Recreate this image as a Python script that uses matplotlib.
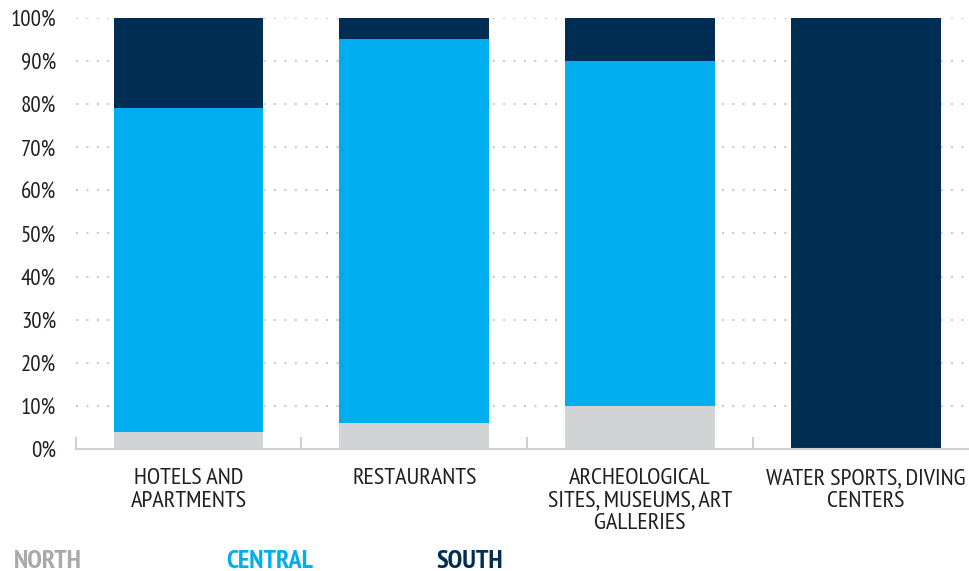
import matplotlib
matplotlib.use('Agg')

import numpy as np
import matplotlib.pyplot as plt
from matplotlib import font_manager as fm

# Data (share of each region, %)
categories = ['HOTELS AND\nAPARTMENTS', 'RESTAURANTS',
              'ARCHEOLOGICAL\nSITES, MUSEUMS, ART\nGALLERIES',
              'WATER SPORTS, DIVING\nCENTERS']
series_names = ['NORTH', 'CENTRAL', 'SOUTH']
north = [4, 6, 10, 0]
central = [75, 89, 80, 0]
south = [21, 5, 10, 100]
y_ticks = [0, 10, 20, 30, 40, 50, 60, 70, 80, 90, 100]

bar_colors = ['#d1d3d4', '#00aeef', '#002d54']
label_colors = ['#a7a9ac', '#00aeef', '#002d54']
text_color = '#231f20'
grid_color = '#c9cacb'

# pick a condensed face close to the original
installed = {f.name for f in fm.fontManager.ttflist}
for cand in ['PT Sans Narrow', 'Encode Sans Semi Condensed', 'Archivo Narrow',
             'Roboto Condensed', 'DejaVu Sans']:
    if cand in installed:
        font_name = cand
        break
plt.rcParams['font.family'] = [font_name, 'DejaVu Sans']

fig = plt.figure(figsize=(9.69, 5.71), dpi=100)
ax = fig.add_axes([0.078, 0.2137, 0.922, 0.755])

x = np.arange(len(categories))
width = 0.664
bottom = np.zeros(len(categories))
for vals, col in zip([north, central, south], bar_colors):
    ax.bar(x, vals, width, bottom=bottom, color=col, edgecolor='none', zorder=3)
    bottom += np.array(vals)

ax.set_xlim(-0.5, 3.456)
ax.set_ylim(0, 100)

# dotted horizontal grid
for yv in y_ticks[1:]:
    ax.axhline(yv, color=grid_color, lw=1.5, linestyle=(0, (1, 4)), zorder=1)

ax.set_yticks(y_ticks)
ax.set_yticklabels([f'{v}%' for v in y_ticks])
ax.tick_params(axis='y', length=0, pad=14, labelsize=16.5, labelcolor=text_color)

ax.set_xticks(x)
ax.set_xticklabels(categories, linespacing=1.07)
ax.tick_params(axis='x', which='major', length=0, pad=14, labelsize=17.5,
               labelcolor=text_color)
ax.set_xticks([-0.5, 0.5, 1.5, 2.5], minor=True)
ax.tick_params(axis='x', which='minor', direction='in', length=9, width=1.5,
               color='#d0d0d0')

for s in ['left', 'right', 'top']:
    ax.spines[s].set_visible(False)
ax.spines['bottom'].set_color('#d0d0d0')
ax.spines['bottom'].set_linewidth(1.5)
ax.spines['bottom'].set_zorder(4)

# legend as coloured bold words
legend_x = [0.014, 0.233, 0.45]
for name, col, lx in zip(series_names, label_colors, legend_x):
    fig.text(lx, 1 - 561 / 571, name, color=col, fontsize=19, fontweight='bold',
             ha='left', va='center')

fig.savefig('out.png', dpi=100)
